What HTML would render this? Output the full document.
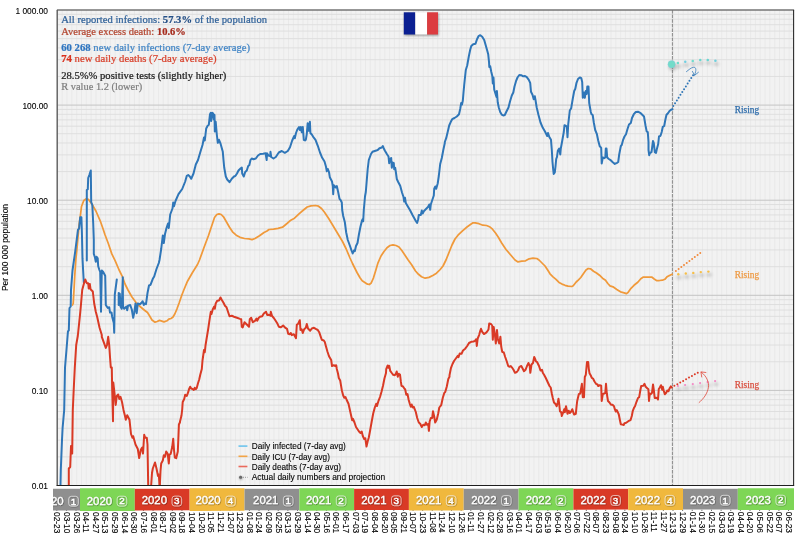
<!DOCTYPE html>
<html lang="en"><head><meta charset="utf-8"><title>France COVID-19 chart</title>
<style>html,body{margin:0;padding:0;background:#fff}body{width:800px;height:534px;overflow:hidden}svg{display:block}</style>
</head><body>
<svg width="800" height="534" viewBox="0 0 800 534" role="img" aria-label="COVID-19 France: daily infections, ICU and deaths per 100 000 population">
<defs><filter id="sh" x="-50%" y="-50%" width="200%" height="200%"><feGaussianBlur stdDeviation="1.1"/></filter><filter id="ts" x="-5%" y="-30%" width="110%" height="170%"><feDropShadow dx="0.45" dy="0.55" stdDeviation="0.35" flood-color="#000" flood-opacity="0.6"/></filter><filter id="sh2" x="-50%" y="-50%" width="200%" height="300%"><feGaussianBlur stdDeviation="1.6"/></filter><clipPath id="pc"><rect x="57.2" y="10.0" width="736.4" height="475.5"/></clipPath><clipPath id="bc"><rect x="53" y="488" width="741" height="24"/></clipPath></defs>
<rect x="57.2" y="10.0" width="736.4" height="475.5" fill="#f2f2f2"/>
<path d="M62.21,10.0V485.5M67.03,10.0V485.5M71.84,10.0V485.5M76.66,10.0V485.5M81.47,10.0V485.5M86.28,10.0V485.5M91.10,10.0V485.5M95.91,10.0V485.5M100.73,10.0V485.5M105.54,10.0V485.5M110.35,10.0V485.5M115.17,10.0V485.5M119.98,10.0V485.5M124.80,10.0V485.5M129.61,10.0V485.5M134.42,10.0V485.5M139.24,10.0V485.5M144.05,10.0V485.5M148.87,10.0V485.5M153.68,10.0V485.5M158.49,10.0V485.5M163.31,10.0V485.5M168.12,10.0V485.5M172.94,10.0V485.5M177.75,10.0V485.5M182.56,10.0V485.5M187.38,10.0V485.5M192.19,10.0V485.5M197.01,10.0V485.5M201.82,10.0V485.5M206.63,10.0V485.5M211.45,10.0V485.5M216.26,10.0V485.5M221.08,10.0V485.5M225.89,10.0V485.5M230.70,10.0V485.5M235.52,10.0V485.5M240.33,10.0V485.5M245.15,10.0V485.5M249.96,10.0V485.5M254.77,10.0V485.5M259.59,10.0V485.5M264.40,10.0V485.5M269.22,10.0V485.5M274.03,10.0V485.5M278.84,10.0V485.5M283.66,10.0V485.5M288.47,10.0V485.5M293.29,10.0V485.5M298.10,10.0V485.5M302.91,10.0V485.5M307.73,10.0V485.5M312.54,10.0V485.5M317.36,10.0V485.5M322.17,10.0V485.5M326.98,10.0V485.5M331.80,10.0V485.5M336.61,10.0V485.5M341.43,10.0V485.5M346.24,10.0V485.5M351.05,10.0V485.5M355.87,10.0V485.5M360.68,10.0V485.5M365.50,10.0V485.5M370.31,10.0V485.5M375.12,10.0V485.5M379.94,10.0V485.5M384.75,10.0V485.5M389.57,10.0V485.5M394.38,10.0V485.5M399.19,10.0V485.5M404.01,10.0V485.5M408.82,10.0V485.5M413.64,10.0V485.5M418.45,10.0V485.5M423.26,10.0V485.5M428.08,10.0V485.5M432.89,10.0V485.5M437.71,10.0V485.5M442.52,10.0V485.5M447.33,10.0V485.5M452.15,10.0V485.5M456.96,10.0V485.5M461.78,10.0V485.5M466.59,10.0V485.5M471.40,10.0V485.5M476.22,10.0V485.5M481.03,10.0V485.5M485.85,10.0V485.5M490.66,10.0V485.5M495.47,10.0V485.5M500.29,10.0V485.5M505.10,10.0V485.5M509.92,10.0V485.5M514.73,10.0V485.5M519.54,10.0V485.5M524.36,10.0V485.5M529.17,10.0V485.5M533.99,10.0V485.5M538.80,10.0V485.5M543.61,10.0V485.5M548.43,10.0V485.5M553.24,10.0V485.5M558.06,10.0V485.5M562.87,10.0V485.5M567.68,10.0V485.5M572.50,10.0V485.5M577.31,10.0V485.5M582.13,10.0V485.5M586.94,10.0V485.5M591.75,10.0V485.5M596.57,10.0V485.5M601.38,10.0V485.5M606.20,10.0V485.5M611.01,10.0V485.5M615.82,10.0V485.5M620.64,10.0V485.5M625.45,10.0V485.5M630.27,10.0V485.5M635.08,10.0V485.5M639.89,10.0V485.5M644.71,10.0V485.5M649.52,10.0V485.5M654.34,10.0V485.5M659.15,10.0V485.5M663.96,10.0V485.5M668.78,10.0V485.5M673.59,10.0V485.5M678.41,10.0V485.5M683.22,10.0V485.5M688.03,10.0V485.5M692.85,10.0V485.5M697.66,10.0V485.5M702.48,10.0V485.5M707.29,10.0V485.5M712.10,10.0V485.5M716.92,10.0V485.5M721.73,10.0V485.5M726.55,10.0V485.5M731.36,10.0V485.5M736.17,10.0V485.5M740.99,10.0V485.5M745.80,10.0V485.5M750.62,10.0V485.5M755.43,10.0V485.5M760.24,10.0V485.5M765.06,10.0V485.5M769.87,10.0V485.5M774.69,10.0V485.5M779.50,10.0V485.5M784.31,10.0V485.5M789.13,10.0V485.5" stroke="#e5e5e5" stroke-width="0.7" fill="none"/>
<path d="M57.2,456.87H793.6M57.2,440.13H793.6M57.2,428.24H793.6M57.2,419.03H793.6M57.2,411.50H793.6M57.2,405.13H793.6M57.2,399.62H793.6M57.2,394.75H793.6M57.2,361.77H793.6M57.2,345.03H793.6M57.2,333.14H793.6M57.2,323.93H793.6M57.2,316.40H793.6M57.2,310.03H793.6M57.2,304.52H793.6M57.2,299.65H793.6M57.2,266.67H793.6M57.2,249.93H793.6M57.2,238.04H793.6M57.2,228.83H793.6M57.2,221.30H793.6M57.2,214.93H793.6M57.2,209.42H793.6M57.2,204.55H793.6M57.2,171.57H793.6M57.2,154.83H793.6M57.2,142.94H793.6M57.2,133.73H793.6M57.2,126.20H793.6M57.2,119.83H793.6M57.2,114.32H793.6M57.2,109.45H793.6M57.2,76.47H793.6M57.2,59.73H793.6M57.2,47.84H793.6M57.2,38.63H793.6M57.2,31.10H793.6M57.2,24.73H793.6M57.2,19.22H793.6M57.2,14.35H793.6" stroke="#dddddd" stroke-width="0.9" fill="none"/>
<path d="M57.2,390.40H793.6M57.2,295.30H793.6M57.2,200.20H793.6M57.2,105.10H793.6" stroke="#c4c4c4" stroke-width="1" fill="none"/>
<path d="M56.80,509.7v1.3M66.43,509.7v1.3M76.06,509.7v1.3M85.68,509.7v1.3M95.31,509.7v1.3M104.94,509.7v1.3M114.57,509.7v1.3M124.20,509.7v1.3M133.82,509.7v1.3M143.45,509.7v1.3M153.08,509.7v1.3M162.71,509.7v1.3M172.34,509.7v1.3M181.96,509.7v1.3M191.59,509.7v1.3M201.22,509.7v1.3M210.85,509.7v1.3M220.48,509.7v1.3M230.10,509.7v1.3M239.73,509.7v1.3M249.36,509.7v1.3M258.99,509.7v1.3M268.62,509.7v1.3M278.24,509.7v1.3M287.87,509.7v1.3M297.50,509.7v1.3M307.13,509.7v1.3M316.76,509.7v1.3M326.38,509.7v1.3M336.01,509.7v1.3M345.64,509.7v1.3M355.27,509.7v1.3M364.90,509.7v1.3M374.52,509.7v1.3M384.15,509.7v1.3M393.78,509.7v1.3M403.41,509.7v1.3M413.04,509.7v1.3M422.66,509.7v1.3M432.29,509.7v1.3M441.92,509.7v1.3M451.55,509.7v1.3M461.18,509.7v1.3M470.80,509.7v1.3M480.43,509.7v1.3M490.06,509.7v1.3M499.69,509.7v1.3M509.32,509.7v1.3M518.94,509.7v1.3M528.57,509.7v1.3M538.20,509.7v1.3M547.83,509.7v1.3M557.46,509.7v1.3M567.08,509.7v1.3M576.71,509.7v1.3M586.34,509.7v1.3M595.97,509.7v1.3M605.60,509.7v1.3M615.22,509.7v1.3M624.85,509.7v1.3M634.48,509.7v1.3M644.11,509.7v1.3M653.74,509.7v1.3M663.36,509.7v1.3M672.99,509.7v1.3M682.62,509.7v1.3M692.25,509.7v1.3M701.88,509.7v1.3M711.50,509.7v1.3M721.13,509.7v1.3M730.76,509.7v1.3M740.39,509.7v1.3M750.02,509.7v1.3M759.64,509.7v1.3M769.27,509.7v1.3M778.90,509.7v1.3M788.53,509.7v1.3" stroke="#222" stroke-opacity="0.8" stroke-width="0.8" fill="none"/>
<path d="M53.0,488.85L80.0,488.85L80.0,510.51L53.0,510.55Z" fill="#8f8f8f"/>
<path d="M80.0,488.30L134.8,488.30L134.8,510.97L80.0,511.06Z" fill="#7ed656"/>
<path d="M134.8,488.85L189.6,488.85L189.6,510.33L134.8,510.42Z" fill="#d93a26"/>
<path d="M189.6,488.30L244.5,488.30L244.5,510.79L189.6,510.88Z" fill="#f0b83d"/>
<path d="M244.5,488.85L299.3,488.85L299.3,510.15L244.5,510.24Z" fill="#8f8f8f"/>
<path d="M299.3,488.30L354.1,488.30L354.1,510.61L299.3,510.70Z" fill="#7ed656"/>
<path d="M354.1,488.85L408.9,488.85L408.9,509.97L354.1,510.06Z" fill="#d93a26"/>
<path d="M408.9,488.30L463.7,488.30L463.7,510.43L408.9,510.52Z" fill="#f0b83d"/>
<path d="M463.7,488.85L518.6,488.85L518.6,509.80L463.7,509.88Z" fill="#8f8f8f"/>
<path d="M518.6,488.30L573.4,488.30L573.4,510.26L518.6,510.35Z" fill="#7ed656"/>
<path d="M573.4,488.85L628.2,488.85L628.2,509.62L573.4,509.71Z" fill="#d93a26"/>
<path d="M628.2,488.30L683.0,488.30L683.0,510.08L628.2,510.17Z" fill="#f0b83d"/>
<path d="M683.0,488.85L737.8,488.85L737.8,509.44L683.0,509.53Z" fill="#8f8f8f"/>
<path d="M737.8,488.30L794.0,488.30L794.0,509.90L737.8,509.99Z" fill="#7ed656"/>
<g clip-path="url(#bc)" filter="url(#ts)" font-family="'Liberation Sans', sans-serif" font-size="11.5" fill="#fff" stroke="#fff" stroke-width="0.28">
<text x="38.4" y="504.6" textLength="25.3" lengthAdjust="spacingAndGlyphs">2020</text><rect x="68.7" y="496.3" width="9.6" height="9.9" rx="2.7" fill="none" stroke-width="0.6"/><text x="73.5" y="504.5" font-size="9.8" stroke-width="0.4" text-anchor="middle">1</text>
<text x="86.8" y="504.5" textLength="25.3" lengthAdjust="spacingAndGlyphs">2020</text><rect x="117.1" y="496.2" width="9.6" height="9.9" rx="2.7" fill="none" stroke-width="0.6"/><text x="121.9" y="504.4" font-size="9.8" stroke-width="0.4" text-anchor="middle">2</text>
<text x="141.7" y="504.4" textLength="25.3" lengthAdjust="spacingAndGlyphs">2020</text><rect x="172.0" y="496.1" width="9.6" height="9.9" rx="2.7" fill="none" stroke-width="0.6"/><text x="176.8" y="504.3" font-size="9.8" stroke-width="0.4" text-anchor="middle">3</text>
<text x="195.4" y="504.4" textLength="25.3" lengthAdjust="spacingAndGlyphs">2020</text><rect x="225.7" y="496.1" width="9.6" height="9.9" rx="2.7" fill="none" stroke-width="0.6"/><text x="230.5" y="504.3" font-size="9.8" stroke-width="0.4" text-anchor="middle">4</text>
<text x="253.1" y="504.3" textLength="25.3" lengthAdjust="spacingAndGlyphs">2021</text><rect x="283.4" y="496.0" width="9.6" height="9.9" rx="2.7" fill="none" stroke-width="0.6"/><text x="288.2" y="504.2" font-size="9.8" stroke-width="0.4" text-anchor="middle">1</text>
<text x="306.0" y="504.2" textLength="25.3" lengthAdjust="spacingAndGlyphs">2021</text><rect x="336.3" y="495.9" width="9.6" height="9.9" rx="2.7" fill="none" stroke-width="0.6"/><text x="341.1" y="504.1" font-size="9.8" stroke-width="0.4" text-anchor="middle">2</text>
<text x="361.2" y="504.1" textLength="25.3" lengthAdjust="spacingAndGlyphs">2021</text><rect x="391.5" y="495.8" width="9.6" height="9.9" rx="2.7" fill="none" stroke-width="0.6"/><text x="396.3" y="504.0" font-size="9.8" stroke-width="0.4" text-anchor="middle">3</text>
<text x="416.0" y="504.0" textLength="25.3" lengthAdjust="spacingAndGlyphs">2021</text><rect x="446.3" y="495.7" width="9.6" height="9.9" rx="2.7" fill="none" stroke-width="0.6"/><text x="451.1" y="503.9" font-size="9.8" stroke-width="0.4" text-anchor="middle">4</text>
<text x="471.2" y="503.9" textLength="25.3" lengthAdjust="spacingAndGlyphs">2022</text><rect x="501.5" y="495.6" width="9.6" height="9.9" rx="2.7" fill="none" stroke-width="0.6"/><text x="506.3" y="503.8" font-size="9.8" stroke-width="0.4" text-anchor="middle">1</text>
<text x="525.7" y="503.9" textLength="25.3" lengthAdjust="spacingAndGlyphs">2022</text><rect x="556.0" y="495.6" width="9.6" height="9.9" rx="2.7" fill="none" stroke-width="0.6"/><text x="560.8" y="503.8" font-size="9.8" stroke-width="0.4" text-anchor="middle">2</text>
<text x="580.5" y="503.8" textLength="25.3" lengthAdjust="spacingAndGlyphs">2022</text><rect x="610.8" y="495.5" width="9.6" height="9.9" rx="2.7" fill="none" stroke-width="0.6"/><text x="615.6" y="503.7" font-size="9.8" stroke-width="0.4" text-anchor="middle">3</text>
<text x="634.7" y="503.7" textLength="25.3" lengthAdjust="spacingAndGlyphs">2022</text><rect x="665.0" y="495.4" width="9.6" height="9.9" rx="2.7" fill="none" stroke-width="0.6"/><text x="669.8" y="503.6" font-size="9.8" stroke-width="0.4" text-anchor="middle">4</text>
<text x="690.1" y="503.6" textLength="25.3" lengthAdjust="spacingAndGlyphs">2023</text><rect x="720.4" y="495.3" width="9.6" height="9.9" rx="2.7" fill="none" stroke-width="0.6"/><text x="725.2" y="503.5" font-size="9.8" stroke-width="0.4" text-anchor="middle">1</text>
<text x="745.6" y="503.5" textLength="25.3" lengthAdjust="spacingAndGlyphs">2023</text><rect x="775.9" y="495.2" width="9.6" height="9.9" rx="2.7" fill="none" stroke-width="0.6"/><text x="780.7" y="503.4" font-size="9.8" stroke-width="0.4" text-anchor="middle">2</text>
</g>
<g font-family="'Liberation Sans', sans-serif" font-size="9.8" fill="#000" stroke="#000" stroke-width="0.12">
<text transform="translate(54.25,512.10) rotate(90) scale(0.845,1)">02-23</text>
<text transform="translate(63.88,512.09) rotate(90) scale(0.845,1)">03-10</text>
<text transform="translate(73.51,512.09) rotate(90) scale(0.845,1)">03-26</text>
<text transform="translate(83.13,512.09) rotate(90) scale(0.845,1)">04-11</text>
<text transform="translate(92.76,512.08) rotate(90) scale(0.845,1)">04-27</text>
<text transform="translate(102.39,512.08) rotate(90) scale(0.845,1)">05-13</text>
<text transform="translate(112.02,512.08) rotate(90) scale(0.845,1)">05-29</text>
<text transform="translate(121.65,512.07) rotate(90) scale(0.845,1)">06-14</text>
<text transform="translate(131.27,512.07) rotate(90) scale(0.845,1)">06-30</text>
<text transform="translate(140.90,512.06) rotate(90) scale(0.845,1)">07-16</text>
<text transform="translate(150.53,512.06) rotate(90) scale(0.845,1)">08-01</text>
<text transform="translate(160.16,512.06) rotate(90) scale(0.845,1)">08-17</text>
<text transform="translate(169.79,512.05) rotate(90) scale(0.845,1)">09-02</text>
<text transform="translate(179.41,512.05) rotate(90) scale(0.845,1)">09-18</text>
<text transform="translate(189.04,512.04) rotate(90) scale(0.845,1)">10-04</text>
<text transform="translate(198.67,512.04) rotate(90) scale(0.845,1)">10-20</text>
<text transform="translate(208.30,512.04) rotate(90) scale(0.845,1)">11-05</text>
<text transform="translate(217.93,512.03) rotate(90) scale(0.845,1)">11-21</text>
<text transform="translate(227.55,512.03) rotate(90) scale(0.845,1)">12-07</text>
<text transform="translate(237.18,512.02) rotate(90) scale(0.845,1)">12-23</text>
<text transform="translate(246.81,512.02) rotate(90) scale(0.845,1)">01-08</text>
<text transform="translate(256.44,512.02) rotate(90) scale(0.845,1)">01-24</text>
<text transform="translate(266.07,512.01) rotate(90) scale(0.845,1)">02-09</text>
<text transform="translate(275.69,512.01) rotate(90) scale(0.845,1)">02-25</text>
<text transform="translate(285.32,512.00) rotate(90) scale(0.845,1)">03-13</text>
<text transform="translate(294.95,512.00) rotate(90) scale(0.845,1)">03-29</text>
<text transform="translate(304.58,512.00) rotate(90) scale(0.845,1)">04-14</text>
<text transform="translate(314.21,511.99) rotate(90) scale(0.845,1)">04-30</text>
<text transform="translate(323.83,511.99) rotate(90) scale(0.845,1)">05-16</text>
<text transform="translate(333.46,511.99) rotate(90) scale(0.845,1)">06-01</text>
<text transform="translate(343.09,511.98) rotate(90) scale(0.845,1)">06-17</text>
<text transform="translate(352.72,511.98) rotate(90) scale(0.845,1)">07-03</text>
<text transform="translate(362.35,511.97) rotate(90) scale(0.845,1)">07-19</text>
<text transform="translate(371.97,511.97) rotate(90) scale(0.845,1)">08-04</text>
<text transform="translate(381.60,511.97) rotate(90) scale(0.845,1)">08-20</text>
<text transform="translate(391.23,511.96) rotate(90) scale(0.845,1)">09-05</text>
<text transform="translate(400.86,511.96) rotate(90) scale(0.845,1)">09-21</text>
<text transform="translate(410.49,511.95) rotate(90) scale(0.845,1)">10-07</text>
<text transform="translate(420.11,511.95) rotate(90) scale(0.845,1)">10-23</text>
<text transform="translate(429.74,511.95) rotate(90) scale(0.845,1)">11-08</text>
<text transform="translate(439.37,511.94) rotate(90) scale(0.845,1)">11-24</text>
<text transform="translate(449.00,511.94) rotate(90) scale(0.845,1)">12-10</text>
<text transform="translate(458.63,511.93) rotate(90) scale(0.845,1)">12-26</text>
<text transform="translate(468.25,511.93) rotate(90) scale(0.845,1)">01-11</text>
<text transform="translate(477.88,511.93) rotate(90) scale(0.845,1)">01-27</text>
<text transform="translate(487.51,511.92) rotate(90) scale(0.845,1)">02-12</text>
<text transform="translate(497.14,511.92) rotate(90) scale(0.845,1)">02-28</text>
<text transform="translate(506.77,511.92) rotate(90) scale(0.845,1)">03-16</text>
<text transform="translate(516.39,511.91) rotate(90) scale(0.845,1)">04-01</text>
<text transform="translate(526.02,511.91) rotate(90) scale(0.845,1)">04-17</text>
<text transform="translate(535.65,511.90) rotate(90) scale(0.845,1)">05-03</text>
<text transform="translate(545.28,511.90) rotate(90) scale(0.845,1)">05-19</text>
<text transform="translate(554.91,511.90) rotate(90) scale(0.845,1)">06-04</text>
<text transform="translate(564.53,511.89) rotate(90) scale(0.845,1)">06-20</text>
<text transform="translate(574.16,511.89) rotate(90) scale(0.845,1)">07-06</text>
<text transform="translate(583.79,511.88) rotate(90) scale(0.845,1)">07-22</text>
<text transform="translate(593.42,511.88) rotate(90) scale(0.845,1)">08-07</text>
<text transform="translate(603.05,511.88) rotate(90) scale(0.845,1)">08-23</text>
<text transform="translate(612.67,511.87) rotate(90) scale(0.845,1)">09-08</text>
<text transform="translate(622.30,511.87) rotate(90) scale(0.845,1)">09-24</text>
<text transform="translate(631.93,511.86) rotate(90) scale(0.845,1)">10-10</text>
<text transform="translate(641.56,511.86) rotate(90) scale(0.845,1)">10-26</text>
<text transform="translate(651.19,511.86) rotate(90) scale(0.845,1)">11-11</text>
<text transform="translate(660.81,511.85) rotate(90) scale(0.845,1)">11-27</text>
<text transform="translate(670.44,511.85) rotate(90) scale(0.845,1)">12-13</text>
<text transform="translate(680.07,511.85) rotate(90) scale(0.845,1)">12-29</text>
<text transform="translate(689.70,511.84) rotate(90) scale(0.845,1)">01-14</text>
<text transform="translate(699.33,511.84) rotate(90) scale(0.845,1)">01-30</text>
<text transform="translate(708.95,511.83) rotate(90) scale(0.845,1)">02-15</text>
<text transform="translate(718.58,511.83) rotate(90) scale(0.845,1)">03-03</text>
<text transform="translate(728.21,511.83) rotate(90) scale(0.845,1)">03-19</text>
<text transform="translate(737.84,511.82) rotate(90) scale(0.845,1)">04-04</text>
<text transform="translate(747.47,511.82) rotate(90) scale(0.845,1)">04-20</text>
<text transform="translate(757.09,511.81) rotate(90) scale(0.845,1)">05-06</text>
<text transform="translate(766.72,511.81) rotate(90) scale(0.845,1)">05-22</text>
<text transform="translate(776.35,511.81) rotate(90) scale(0.845,1)">06-07</text>
<text transform="translate(785.98,511.80) rotate(90) scale(0.845,1)">06-23</text>
</g>
<path d="M672.4,10.0V485.5" stroke="#7a7a7a" stroke-width="0.9" stroke-dasharray="3.6 1" fill="none"/>
<g clip-path="url(#pc)" fill="none" stroke-linejoin="round" stroke-linecap="round" stroke-width="2.05">
<path d="M72.5,305.0 L73.2,303.5 L74.0,290.0 L74.8,275.0 L75.8,260.0 L76.9,249.4 L79.1,224.6 L80.5,214.5 L81.5,206.5 L83.8,200.5 L86.0,199.0 L88.5,199.4 L92.0,204.2 L95.9,211.0 L100.2,220.8 L103.1,229.0 L105.0,234.8 L108.4,243.8 L111.8,253.9 L115.1,260.6 L119.1,270.0 L122.0,275.8 L125.0,284.0 L128.0,290.0 L131.8,296.8 L136.2,302.8 L140.0,306.5 L144.5,310.2 L147.5,312.5 L149.8,316.2 L152.0,320.0 L155.0,322.2 L157.2,321.5 L159.5,320.4 L161.8,321.1 L164.0,321.9 L167.0,320.8 L168.8,319.2 L171.0,318.5 L172.8,317.3 L174.8,314.0 L177.0,308.8 L179.2,302.8 L181.5,296.0 L183.8,290.0 L187.5,281.2 L192.5,272.5 L197.5,264.5 L199.5,260.0 L204.0,247.5 L208.5,235.5 L211.5,226.5 L214.5,217.5 L216.8,214.5 L219.0,213.8 L221.2,214.5 L223.5,216.8 L226.5,222.0 L229.5,227.2 L232.5,231.8 L236.2,235.2 L240.0,237.3 L244.5,238.5 L249.0,238.9 L252.0,239.6 L255.0,238.5 L259.5,235.8 L264.0,232.5 L267.0,231.0 L269.0,229.5 L273.5,229.2 L278.0,228.4 L282.5,227.2 L287.0,223.5 L290.8,220.2 L294.5,218.2 L299.0,213.8 L303.5,210.0 L307.2,207.0 L311.0,205.8 L315.5,205.5 L318.5,206.2 L321.5,208.5 L324.5,212.2 L329.0,219.0 L333.5,226.5 L338.0,234.0 L342.5,241.5 L346.2,249.0 L350.0,258.0 L352.5,263.5 L357.0,272.5 L360.0,277.8 L362.2,280.8 L365.2,282.7 L367.5,284.2 L369.3,284.5 L371.2,283.0 L373.5,277.8 L375.8,270.2 L378.0,262.8 L381.0,256.0 L384.0,251.5 L387.0,247.8 L390.0,245.5 L393.0,244.8 L396.0,245.5 L399.0,247.0 L402.0,250.8 L405.0,255.2 L408.0,259.8 L411.8,265.0 L415.5,271.0 L418.5,274.3 L421.5,276.7 L425.2,278.2 L429.0,277.4 L432.8,275.5 L436.5,273.2 L440.2,269.5 L443.0,266.0 L446.0,260.0 L449.0,252.5 L452.0,245.0 L455.0,239.0 L458.0,235.2 L462.5,230.8 L467.0,227.0 L470.8,224.3 L473.0,222.8 L475.2,222.8 L479.0,223.7 L482.8,225.2 L486.5,225.5 L489.5,226.7 L492.5,229.2 L495.5,233.0 L498.5,237.5 L501.5,242.8 L506.0,249.5 L510.5,254.8 L515.0,260.0 L518.0,261.9 L521.8,261.2 L525.5,260.8 L529.2,258.8 L533.0,258.2 L536.8,258.5 L539.0,260.0 L542.0,263.0 L545.0,266.0 L548.0,270.5 L550.0,273.8 L553.0,276.8 L556.0,279.3 L559.0,282.4 L562.0,284.1 L565.0,285.3 L568.0,286.2 L571.8,286.5 L573.2,285.8 L576.2,282.0 L578.5,279.8 L580.8,277.5 L583.0,274.2 L586.0,270.0 L588.2,268.5 L590.5,268.8 L593.5,271.2 L596.5,273.0 L599.5,275.2 L602.5,278.2 L605.5,280.2 L607.8,283.5 L610.0,285.8 L613.0,286.8 L616.8,289.5 L620.5,291.8 L624.2,292.8 L626.5,293.6 L628.0,292.5 L631.0,288.3 L634.0,285.3 L637.8,282.3 L640.8,278.7 L643.0,277.2 L647.5,277.2 L652.0,277.2 L654.2,279.0 L656.5,280.5 L659.5,280.5 L662.5,280.2 L664.8,279.3 L667.0,276.8 L670.0,275.2 L672.2,274.2" stroke="#f0993a" stroke-width="1.75"/>
<path d="M60.5,485.0 L60.8,470.0 L61.4,455.0 L62.0,440.0 L62.6,428.0 L64.2,410.0 L65.0,367.5 L66.5,349.5 L67.7,334.5 L68.0,331.2 L68.8,330.5 L69.5,308.0 L70.7,306.5 L71.0,290.0 L72.5,270.5 L75.2,251.6 L78.0,229.7 L79.1,228.6 L80.2,217.3 L81.4,217.3 L81.9,232.5 L82.5,258.4 L83.1,270.0 L83.8,282.5" stroke="#2f76b8" stroke-width="2.0"/>
<path d="M86.8,260.6 L86.8,210.0 L86.8,190.0 L87.8,189.2 L88.2,178.0 L89.3,175.0 L90.8,170.5 L91.2,202.0 L92.3,205.0 L93.2,223.0 L93.8,239.9 L93.8,253.9 L94.9,257.2 L95.8,261.8 L96.6,256.7 L97.7,258.4 L98.2,266.2 L99.4,270.0 L100.2,272.0 L101.0,311.8 L101.8,270.5 L103.2,272.0 L105.2,275.8 L105.8,305.0 L107.8,308.0 L109.2,307.2 L110.0,312.5 L111.5,312.5 L112.2,317.0 L113.8,323.0 L114.2,332.8 L114.8,294.5 L116.8,279.5" stroke="#2f76b8" stroke-width="2.0"/>
<path d="M118.7,293.0 L118.7,305.0 L119.8,293.8 L120.5,306.5 L121.7,308.8 L122.8,277.2 L123.0,306.5 L124.2,308.8 L126.5,306.5 L127.2,310.2 L128.0,305.8 L130.2,305.0 L131.8,309.5 L133.2,317.8 L134.3,312.5 L135.5,303.5 L136.7,313.2 L137.8,303.5 L140.0,304.2 L141.5,302.8 L142.7,301.2 L143.8,305.0 L144.5,303.5 L146.0,304.2 L147.5,293.0 L149.0,285.5 L150.5,284.8 L152.8,278.8 L154.2,276.5 L156.5,269.0 L158.8,263.0 L159.5,260.0 L161.2,249.0 L162.8,235.5 L163.8,243.0 L165.0,234.0 L166.5,228.0 L168.0,223.5 L168.8,228.0 L170.2,214.5 L172.5,208.5 L173.2,202.5 L174.0,206.2 L175.5,201.0 L178.5,194.2 L182.2,189.0 L185.2,181.5 L186.8,175.8 L188.2,175.0 L189.8,176.5 L191.2,178.8 L193.5,173.5 L195.8,164.5 L198.0,160.0 L200.2,152.5 L202.5,145.0 L204.0,137.5 L204.8,140.5 L206.2,128.5 L207.8,125.5 L208.8,124.8 L210.0,114.2 L210.8,112.8 L211.2,121.0 L212.2,112.8 L213.3,113.5 L213.8,119.5 L214.5,115.0 L214.8,131.5 L215.7,121.8 L216.8,134.5 L217.8,142.8 L219.0,139.8 L220.5,143.5 L222.8,151.8 L223.5,160.0 L224.2,167.5 L225.8,176.5 L227.2,179.5 L229.5,182.2 L231.8,178.8 L234.0,176.5 L235.5,175.8 L237.0,173.5 L238.5,170.5 L240.8,168.2 L241.8,167.5 L242.2,173.5 L243.8,176.5 L245.2,172.0 L246.8,170.5 L248.2,166.0 L249.3,165.2 L250.5,160.0 L251.7,158.5 L253.5,159.2 L255.8,158.5 L258.0,155.5 L260.2,154.0 L263.2,153.7 L265.5,153.2 L266.7,160.0 L267.0,153.2 L268.5,155.5 L270.2,156.2 L270.5,151.8 L271.2,157.0 L273.5,158.5 L275.8,157.0 L278.8,152.5 L281.8,151.0 L284.8,152.8 L287.8,151.0 L290.0,147.2 L292.2,140.5 L294.2,136.0 L294.8,138.2 L296.0,133.0 L297.5,129.2 L299.0,127.0 L299.8,130.0 L300.8,127.0 L301.7,132.2 L302.8,127.0 L303.8,139.8 L305.0,140.5 L305.8,139.8 L306.8,133.8 L307.7,123.2 L308.8,130.8 L309.9,121.8 L310.4,133.0 L311.8,134.5 L313.2,136.8 L315.5,139.8 L317.8,145.8 L320.0,152.5 L322.2,157.8 L324.5,161.5 L326.0,166.8 L326.8,171.2 L327.8,169.0 L329.0,172.0 L329.8,177.2 L332.0,181.5 L332.8,186.0 L333.2,194.2 L333.8,185.2 L335.8,187.5 L336.8,186.0 L338.0,191.2 L339.5,198.8 L340.7,200.2 L341.8,202.5 L342.2,210.0 L343.2,216.0 L344.8,222.0 L346.2,232.5 L347.8,240.0 L350.0,246.0 L351.5,250.5 L352.7,253.5 L353.8,250.5 L354.8,251.2 L356.0,246.0 L357.5,243.0 L359.0,234.0 L360.5,226.5 L362.0,220.5 L362.8,219.0 L363.2,221.2 L363.8,210.0 L365.0,196.5 L365.8,192.0 L366.8,180.0 L367.7,169.0 L368.8,160.0 L371.0,154.0 L372.5,151.8 L374.8,151.0 L377.0,150.2 L378.0,149.8 L379.5,148.2 L381.8,147.5 L382.8,146.0 L383.7,148.2 L384.8,150.5 L387.0,154.2 L388.5,156.5 L389.2,163.2 L390.3,158.8 L391.2,158.0 L391.8,167.8 L392.7,162.5 L393.8,163.2 L394.2,169.2 L395.2,167.8 L396.0,173.0 L396.8,179.0 L398.2,182.0 L400.2,185.8 L402.0,192.5 L403.5,197.0 L404.2,201.5 L405.0,197.8 L405.8,203.0 L408.0,206.8 L410.2,210.5 L412.5,215.0 L414.3,218.3 L415.8,221.0 L417.1,222.9 L418.2,219.2 L418.8,215.0 L420.8,215.0 L421.8,210.5 L422.7,213.5 L423.8,211.2 L426.0,209.0 L428.2,206.8 L429.3,204.5 L430.2,209.8 L430.8,204.5 L432.8,198.5 L433.8,195.5 L434.2,188.8 L435.3,186.5 L436.2,188.8 L437.7,183.5 L438.8,176.0 L440.2,164.0 L441.8,158.0 L443.2,150.5 L444.8,143.0 L444.8,142.0 L446.2,138.2 L447.8,131.5 L449.2,125.5 L450.8,121.8 L452.2,119.2 L454.5,118.0 L456.8,116.5 L459.0,114.2 L460.2,109.0 L461.2,103.0 L462.0,104.5 L462.8,100.8 L463.5,92.5 L464.2,85.0 L465.3,74.5 L465.8,70.0 L467.2,65.5 L468.8,56.5 L470.2,49.8 L471.3,46.0 L473.2,44.2 L475.5,43.8 L477.0,39.2 L478.5,36.2 L480.3,35.2 L482.2,36.7 L484.2,40.0 L485.7,45.2 L487.2,50.5 L488.2,54.2 L489.0,61.8 L489.3,67.0 L490.2,66.2 L491.2,71.5 L492.3,76.0 L492.8,83.5 L493.2,77.5 L493.5,77.5 L494.2,89.5 L495.8,94.8 L496.5,97.0 L496.9,91.0 L497.7,102.2 L498.8,107.5 L500.2,112.0 L501.8,114.7 L503.2,115.5 L504.8,115.0 L506.2,112.0 L508.5,107.5 L510.0,101.5 L511.8,95.5 L513.3,92.5 L514.5,86.5 L516.0,81.2 L517.5,77.5 L519.3,75.0 L521.2,75.2 L523.2,76.3 L525.0,76.0 L526.8,77.2 L528.8,79.8 L530.2,82.8 L531.0,91.8 L532.5,94.8 L533.7,99.2 L534.8,96.2 L535.5,100.0 L536.7,107.5 L538.5,115.0 L540.5,122.5 L542.8,127.8 L545.0,131.5 L547.2,136.0 L548.0,133.0 L549.2,136.8 L551.0,139.8 L551.8,150.0 L552.5,162.0 L553.2,169.5 L553.7,174.0 L554.8,172.5 L555.5,166.5 L556.2,159.0 L557.0,156.8 L557.8,150.8 L559.2,148.5 L560.3,154.5 L560.8,148.5 L562.2,141.0 L563.8,132.0 L564.5,125.2 L566.0,126.0 L566.8,126.8 L567.5,137.2 L568.2,124.5 L569.8,110.5 L571.2,108.2 L572.8,98.5 L574.2,91.0 L575.3,88.8 L576.5,82.8 L578.0,79.0 L579.8,77.5 L581.3,78.2 L582.2,82.0 L582.8,97.8 L584.0,92.5 L584.8,97.8 L585.8,91.0 L586.7,94.0 L587.3,86.5 L588.5,86.5 L589.2,103.0 L590.8,112.0 L591.5,114.2 L592.7,115.0 L593.8,122.5 L595.2,130.0 L596.8,133.8 L598.2,140.5 L599.8,146.5 L599.8,146.2 L601.2,147.8 L601.7,163.5 L602.8,157.5 L604.2,158.2 L605.3,157.5 L605.8,148.5 L606.5,148.5 L607.2,157.5 L608.8,159.0 L610.2,159.8 L612.5,162.0 L614.8,163.9 L617.0,162.8 L618.2,162.0 L619.2,154.5 L620.8,146.2 L621.8,144.8 L623.0,140.2 L624.5,136.5 L626.0,134.2 L627.5,129.0 L629.0,124.5 L630.8,123.0 L632.0,118.0 L633.8,114.2 L635.8,112.0 L638.0,111.7 L640.2,112.8 L642.5,115.0 L644.0,116.5 L645.5,125.5 L646.7,131.5 L647.8,132.2 L648.5,142.0 L648.5,150.0 L649.2,155.2 L650.0,153.0 L651.5,152.2 L652.2,147.0 L653.0,141.0 L653.8,143.2 L654.8,152.2 L656.0,153.0 L656.8,149.2 L658.2,144.0 L659.0,136.5 L660.5,135.8 L661.7,132.0 L662.8,126.8 L664.2,126.0 L665.3,120.0 L666.5,114.8 L668.0,113.2 L669.5,111.0 L671.0,109.8 L672.5,109.2" stroke="#2f76b8" stroke-width="2.0"/>
<path d="M68.8,485.0 L68.8,468.5 L70.2,467.0 L71.0,446.0 L72.2,453.5 L72.8,410.0 L73.7,390.0 L74.8,367.5 L76.2,345.0 L77.8,336.0 L80.0,314.8 L80.8,306.5 L82.2,290.0 L83.8,284.0 L85.2,279.5 L86.8,283.2 L88.2,283.2 L88.7,288.5 L89.8,284.0 L90.5,289.2 L92.8,291.5 L94.2,303.5 L95.8,311.8 L97.2,317.0 L99.5,327.5 L101.8,335.0 L101.8,336.8 L104.0,342.8 L105.8,348.0 L107.0,345.0 L108.2,336.8 L109.2,345.0 L110.0,357.0 L110.8,367.5 L111.8,367.5 L112.2,390.0 L113.0,421.2 L113.3,382.5 L114.5,393.0 L115.7,405.0 L116.8,396.0 L118.2,394.5 L119.3,399.0 L120.5,396.8 L122.0,402.0 L123.5,409.9 L125.0,416.0 L125.8,419.8 L127.2,415.2 L129.5,419.8 L131.0,434.0 L132.5,437.8 L133.2,436.2 L135.5,444.5 L137.8,449.0 L139.2,458.0 L140.8,449.8 L142.2,447.5 L143.0,453.5 L144.2,434.8 L145.2,437.8 L146.8,437.8 L147.5,444.5 L148.2,485.0" stroke="#d93a25" stroke-width="2.0"/>
<path d="M151.2,485.0 L152.0,473.0 L152.8,468.5 L155.0,462.5 L156.5,468.5 L158.0,476.0 L158.8,474.5 L159.5,485.0" stroke="#d93a25" stroke-width="2.0"/>
<path d="M159.8,486.0 L160.5,471.0 L161.2,463.5 L162.8,460.5 L163.8,455.2 L165.0,456.8 L166.2,451.5 L167.7,453.8 L168.8,463.5 L169.5,454.5 L170.7,453.8 L172.2,447.0 L173.2,438.8 L174.0,450.0 L174.8,457.5 L176.2,458.2 L177.8,451.5 L178.5,435.0 L178.9,424.5 L180.0,422.2 L180.0,421.5 L181.5,415.5 L182.2,409.5 L182.7,402.0 L184.2,399.0 L185.2,394.8 L186.8,396.0 L188.2,392.2 L189.0,389.2 L190.2,386.7 L191.2,388.5 L192.8,389.2 L193.8,390.0 L194.7,387.8 L195.8,389.2 L196.8,387.8 L198.0,383.2 L199.2,379.5 L200.2,375.0 L201.8,369.0 L202.5,360.5 L204.0,350.0 L204.8,352.2 L205.5,345.5 L206.7,338.0 L208.2,329.0 L209.2,322.2 L210.3,314.8 L210.8,311.8 L211.5,314.0 L212.7,309.5 L214.2,306.5 L214.8,308.8 L215.7,303.5 L217.2,300.8 L219.0,300.5 L220.5,297.5 L221.7,299.8 L223.5,302.8 L225.0,305.8 L226.5,307.2 L228.0,311.8 L229.5,316.2 L231.8,315.8 L234.0,316.7 L237.0,317.8 L240.0,318.9 L241.2,319.2 L241.8,326.8 L242.7,327.5 L244.5,322.2 L246.8,324.5 L249.0,326.8 L249.8,319.2 L251.2,317.8 L252.8,322.2 L255.0,320.8 L256.5,318.5 L257.2,320.8 L258.8,317.8 L260.0,316.8 L262.2,316.2 L263.8,313.5 L266.0,311.7 L267.2,315.0 L269.0,314.7 L270.5,315.8 L270.8,311.7 L272.0,315.8 L273.8,318.0 L275.8,321.0 L277.2,323.2 L278.8,326.7 L280.7,327.3 L282.5,326.2 L283.2,325.5 L284.8,327.3 L287.0,328.8 L288.2,333.8 L289.7,334.2 L290.8,333.0 L291.8,335.2 L293.8,334.2 L294.8,336.0 L296.0,338.2 L296.8,324.8 L298.2,323.7 L299.8,320.2 L300.5,330.0 L301.7,329.2 L302.8,333.0 L304.2,329.2 L305.8,327.8 L306.8,324.0 L308.0,328.5 L310.2,330.8 L311.8,328.5 L314.0,327.8 L316.2,329.2 L317.8,330.0 L319.2,332.2 L320.8,336.8 L321.8,339.8 L323.8,340.5 L324.8,342.0 L326.0,346.5 L327.5,351.8 L329.0,356.2 L331.2,360.0 L332.0,366.0 L333.8,365.2 L335.0,366.0 L336.2,365.2 L336.8,369.0 L338.0,373.5 L338.8,378.0 L340.2,380.5 L341.8,390.2 L343.2,395.5 L344.3,397.8 L345.5,397.0 L346.7,400.0 L348.5,403.8 L350.0,410.5 L351.5,417.2 L352.2,420.2 L353.0,418.8 L354.5,422.5 L356.0,427.0 L357.5,429.2 L359.0,431.5 L360.5,433.0 L361.7,431.5 L362.8,436.0 L364.2,439.0 L365.3,438.2 L366.5,446.5 L367.7,441.2 L368.8,437.5 L370.2,430.0 L371.8,421.0 L373.2,413.5 L374.8,407.5 L376.2,403.8 L377.0,406.0 L378.5,400.8 L380.0,397.0 L381.5,391.8 L383.0,385.8 L384.5,378.2 L386.0,373.0 L386.2,369.2 L387.7,365.5 L388.3,367.8 L389.2,365.8 L390.2,370.8 L391.8,373.0 L393.2,374.8 L394.8,375.2 L395.8,373.8 L396.7,371.5 L397.8,376.8 L398.8,373.8 L400.0,374.5 L400.8,381.2 L401.5,385.8 L403.0,386.5 L404.5,388.8 L405.2,389.5 L406.3,394.8 L407.5,394.0 L408.7,400.0 L409.8,403.8 L410.8,406.8 L411.7,404.5 L412.8,407.5 L413.8,406.8 L415.8,412.0 L417.2,418.0 L418.8,422.5 L420.2,423.7 L421.8,427.0 L423.2,424.8 L424.8,425.2 L425.8,422.5 L427.0,424.8 L428.2,424.0 L428.9,430.8 L429.6,421.8 L430.8,418.0 L432.2,418.0 L433.0,411.2 L434.2,416.5 L435.2,422.5 L436.8,419.5 L438.2,413.5 L439.3,407.5 L440.5,406.0 L441.2,405.2 L442.8,397.8 L444.2,393.2 L445.3,391.8 L446.8,386.5 L448.3,379.0 L449.5,376.8 L449.5,375.2 L451.0,367.8 L452.5,364.0 L454.0,361.0 L456.2,358.0 L457.8,355.8 L458.5,357.2 L459.7,353.5 L461.5,353.8 L463.0,350.5 L465.2,348.7 L467.2,346.0 L469.0,343.0 L471.2,341.8 L473.5,341.5 L475.0,340.8 L476.2,339.2 L476.8,346.0 L477.7,338.5 L479.2,334.8 L480.2,331.0 L481.0,328.8 L482.2,331.8 L484.0,334.0 L485.5,333.2 L487.0,331.8 L488.5,329.5 L489.2,323.5 L491.0,324.0 L492.2,325.5 L492.8,339.8 L493.7,327.0 L494.8,333.8 L495.8,343.5 L497.0,330.0 L497.8,339.0 L499.2,343.5 L500.4,336.8 L501.2,346.5 L502.2,351.8 L503.8,352.5 L505.2,357.0 L506.8,361.5 L508.2,366.0 L509.8,366.8 L510.8,366.0 L512.0,367.5 L513.5,369.8 L515.0,372.8 L516.8,372.0 L518.0,370.5 L519.5,366.8 L521.3,366.0 L522.5,368.2 L524.0,371.2 L525.5,369.8 L527.0,366.0 L528.5,363.0 L529.7,366.0 L530.3,372.8 L531.5,364.5 L533.0,363.0 L534.2,357.0 L535.2,359.2 L536.0,361.5 L537.2,362.2 L539.0,366.0 L540.5,370.5 L542.0,369.8 L542.8,372.8 L544.2,375.0 L545.8,378.0 L549.5,386.0 L550.7,387.5 L551.8,393.5 L552.8,398.0 L554.0,402.5 L555.5,404.0 L556.7,406.2 L557.8,402.5 L558.5,398.8 L559.2,404.0 L560.0,411.5 L561.2,412.2 L561.8,416.0 L563.0,413.0 L564.2,409.2 L564.8,412.2 L566.0,406.2 L566.8,410.0 L567.5,413.8 L568.7,410.8 L569.8,413.0 L571.2,411.5 L572.3,409.2 L573.5,413.0 L574.2,414.5 L575.8,413.8 L576.5,407.0 L577.2,401.0 L578.8,394.2 L580.2,393.5 L581.3,387.5 L581.9,383.8 L582.8,397.2 L584.0,397.2 L584.8,377.0 L585.8,374.8 L587.0,362.0 L588.2,362.0 L588.8,368.8 L589.5,373.2 L590.8,375.5 L591.8,377.8 L593.0,378.5 L594.5,381.5 L596.0,383.8 L597.5,384.5 L598.2,386.0 L599.8,385.2 L601.2,385.7 L601.7,401.0 L602.8,394.2 L604.2,393.5 L605.3,392.8 L606.0,383.8 L606.8,393.5 L608.0,401.0 L609.5,402.5 L611.0,404.8 L612.5,404.8 L614.0,406.2 L614.8,409.2 L615.8,411.5 L616.7,410.0 L617.8,412.2 L618.8,414.5 L620.0,420.5 L620.8,424.2 L622.3,424.6 L623.8,425.0 L624.5,423.2 L626.2,422.8 L628.3,421.2 L630.5,420.2 L631.8,416.0 L632.8,410.8 L634.0,407.8 L635.0,406.2 L636.5,401.8 L638.0,398.0 L639.2,397.2 L640.3,390.5 L641.2,386.0 L643.3,385.7 L644.5,383.8 L645.7,386.8 L647.2,388.2 L648.4,389.3 L649.0,401.0 L649.8,393.5 L650.8,394.2 L652.0,392.8 L653.0,384.5 L653.8,389.8 L654.7,398.0 L655.8,397.7 L657.2,398.0 L658.0,399.5 L658.8,389.0 L659.8,387.5 L661.0,385.2 L662.2,389.8 L662.8,386.8 L663.7,390.5 L664.8,394.2 L666.2,392.8 L667.3,390.5 L668.5,391.2 L669.7,388.2 L670.8,386.4 L671.8,387.5" stroke="#d93a25" stroke-width="2.0"/>
</g>
<circle cx="673.25" cy="106.10" r="1.0" fill="#2e75b6"/><circle cx="675.05" cy="103.29" r="1.0" fill="#2e75b6"/><circle cx="676.85" cy="100.48" r="1.0" fill="#2e75b6"/><circle cx="678.65" cy="97.67" r="1.0" fill="#2e75b6"/><circle cx="680.45" cy="94.86" r="1.0" fill="#2e75b6"/><circle cx="682.25" cy="92.05" r="1.0" fill="#2e75b6"/><circle cx="684.05" cy="89.24" r="1.0" fill="#2e75b6"/><circle cx="685.85" cy="86.43" r="1.0" fill="#2e75b6"/><circle cx="687.65" cy="83.62" r="1.0" fill="#2e75b6"/><circle cx="689.45" cy="80.81" r="1.0" fill="#2e75b6"/><circle cx="691.25" cy="78.00" r="1.0" fill="#2e75b6"/><circle cx="693.05" cy="75.19" r="1.0" fill="#2e75b6"/>
<g filter="url(#sh2)" opacity="0.3"><circle cx="672.6" cy="66.8" r="3.8" fill="#444"/></g>
<circle cx="671.6" cy="64.3" r="3.7" fill="#73dcc9" stroke="#8fc4e6" stroke-width="0.3"/>
<g filter="url(#sh2)" opacity="0.24"><ellipse cx="678.7" cy="66.3" rx="2.8" ry="2" fill="#555"/><ellipse cx="686.0" cy="65.0" rx="2.8" ry="2" fill="#555"/><ellipse cx="693.5" cy="64.1" rx="2.8" ry="2" fill="#555"/><ellipse cx="701.0" cy="63.2" rx="2.8" ry="2" fill="#555"/><ellipse cx="708.5" cy="63.1" rx="2.8" ry="2" fill="#555"/><ellipse cx="716.2" cy="63.9" rx="2.8" ry="2" fill="#555"/></g>
<circle cx="677.9" cy="63.1" r="1.25" fill="#6fdccb"/>
<circle cx="685.25" cy="61.85" r="1.25" fill="#6fcfe2"/>
<circle cx="692.75" cy="60.9" r="1.25" fill="#6edccc"/>
<circle cx="700.25" cy="60.0" r="1.25" fill="#69d8d0"/>
<circle cx="707.75" cy="59.9" r="1.25" fill="#66d6d2"/>
<circle cx="715.4" cy="60.65" r="1.25" fill="#6dd0de"/>
<path d="M686.4,71.7C688.6,69.9 691.2,67.6 693.4,67.3C696.3,67 696.6,69.8 694.6,75.1M692.4,71.4L694.6,75.3L698.4,72.3" stroke="#2e75b6" stroke-width="0.75" fill="none" stroke-linecap="round" stroke-linejoin="round"/>
<circle cx="675.90" cy="271.00" r="1.0" fill="#f08a3c"/><circle cx="678.61" cy="269.00" r="1.0" fill="#f08a3c"/><circle cx="681.31" cy="267.00" r="1.0" fill="#f08a3c"/><circle cx="684.02" cy="265.00" r="1.0" fill="#f08a3c"/><circle cx="686.72" cy="263.00" r="1.0" fill="#f08a3c"/><circle cx="689.43" cy="261.00" r="1.0" fill="#f08a3c"/><circle cx="692.14" cy="259.00" r="1.0" fill="#f08a3c"/><circle cx="694.84" cy="257.00" r="1.0" fill="#f08a3c"/><circle cx="697.55" cy="255.00" r="1.0" fill="#f08a3c"/><circle cx="700.25" cy="253.00" r="1.0" fill="#f08a3c"/>
<g filter="url(#sh2)" opacity="0.24"><ellipse cx="679.1" cy="277.4" rx="2.8" ry="2.0" fill="#555"/><ellipse cx="686.6" cy="276.7" rx="2.8" ry="2.0" fill="#555"/><ellipse cx="694.1" cy="276.1" rx="2.8" ry="2.0" fill="#555"/><ellipse cx="701.6" cy="275.3" rx="2.8" ry="2.0" fill="#555"/><ellipse cx="709.2" cy="274.8" rx="2.8" ry="2.0" fill="#555"/></g><circle cx="678.3" cy="274.2" r="1.2" fill="#f7bf47"/><circle cx="685.8" cy="273.5" r="1.2" fill="#f7bf47"/><circle cx="693.3" cy="272.9" r="1.2" fill="#f7bf47"/><circle cx="700.8" cy="272.1" r="1.2" fill="#f7bf47"/><circle cx="708.4" cy="271.6" r="1.2" fill="#f7bf47"/>
<g filter="url(#sh2)" opacity="0.24"><ellipse cx="678.7" cy="389.2" rx="2.7" ry="1.9000000000000001" fill="#555"/><ellipse cx="685.9" cy="388.2" rx="2.7" ry="1.9000000000000001" fill="#555"/><ellipse cx="693.5" cy="387.3" rx="2.7" ry="1.9000000000000001" fill="#555"/><ellipse cx="700.9" cy="386.3" rx="2.7" ry="1.9000000000000001" fill="#555"/><ellipse cx="708.4" cy="385.3" rx="2.7" ry="1.9000000000000001" fill="#555"/><ellipse cx="715.9" cy="384.3" rx="2.7" ry="1.9000000000000001" fill="#555"/></g><circle cx="677.9" cy="386.0" r="1.1" fill="#f48ac6"/><circle cx="685.1" cy="385.0" r="1.1" fill="#f48ac6"/><circle cx="692.8" cy="384.1" r="1.1" fill="#f48ac6"/><circle cx="700.1" cy="383.1" r="1.1" fill="#f48ac6"/><circle cx="707.6" cy="382.1" r="1.1" fill="#f48ac6"/><circle cx="715.1" cy="381.1" r="1.1" fill="#f48ac6"/>
<circle cx="674.40" cy="385.85" r="1.0" fill="#dc3a26"/><circle cx="677.32" cy="384.20" r="1.0" fill="#dc3a26"/><circle cx="680.24" cy="382.55" r="1.0" fill="#dc3a26"/><circle cx="683.16" cy="380.90" r="1.0" fill="#dc3a26"/><circle cx="686.08" cy="379.25" r="1.0" fill="#dc3a26"/><circle cx="689.00" cy="377.60" r="1.0" fill="#dc3a26"/><circle cx="691.92" cy="375.95" r="1.0" fill="#dc3a26"/><circle cx="694.84" cy="374.30" r="1.0" fill="#dc3a26"/><circle cx="697.76" cy="372.65" r="1.0" fill="#dc3a26"/>
<path d="M699.1,402.5C703.6,398.8 707.4,393.5 708.4,387.5C709.2,381.8 706.4,376 701.2,372.1M701.7,377L700.9,371.9L705.9,372.5" stroke="#e0483a" stroke-width="0.8" fill="none" stroke-linecap="round" stroke-linejoin="round"/>
<path d="M56.900000000000006,10.0H794.1" stroke="#757575" stroke-width="1.5" fill="none"/>
<path d="M57.2,10.0V486.0" stroke="#5c5c5c" stroke-width="1.4" fill="none"/>
<path d="M793.6,10.0V486.0" stroke="#2b2b2b" stroke-width="1.1" fill="none"/>
<path d="M56.7,485.5H794.1" stroke="#1f1f1f" stroke-width="1.1" fill="none"/>
<g filter="url(#sh)" opacity="0.35"><rect x="404.4" y="13.4" width="34.2" height="22.4" fill="#000"/></g>
<rect x="403.8" y="12.3" width="11.5" height="22.2" fill="#0b2092"/><rect x="415.3" y="12.3" width="11.8" height="22.2" fill="#fff"/><rect x="427.1" y="12.3" width="10.9" height="22.2" fill="#dc3c40"/>
<g font-family="'Liberation Sans', sans-serif" font-size="8.4" fill="#000" stroke="#000" stroke-width="0.1">
<path d="M238.5,446.09999999999997H247.4" stroke="#6cc3ec" stroke-width="1.6" fill="none"/>
<text x="251.7" y="449.4" textLength="94.1" lengthAdjust="spacingAndGlyphs">Daily infected (7-day avg)</text>
<path d="M238.5,456.3H247.4" stroke="#f2a447" stroke-width="1.6" fill="none"/>
<text x="251.7" y="459.6" textLength="78.2" lengthAdjust="spacingAndGlyphs">Daily ICU (7-day avg)</text>
<path d="M238.5,466.5H247.4" stroke="#ea6a5c" stroke-width="1.6" fill="none"/>
<text x="251.7" y="469.8" textLength="89.4" lengthAdjust="spacingAndGlyphs">Daily deaths (7-day avg)</text>
<g filter="url(#sh)" opacity="0.4"><circle cx="241" cy="478.2" r="1.6" fill="#333"/></g>
<path d="M243,477.3H247.6" stroke="#777" stroke-width="0.8" stroke-dasharray="0.9 1.1" fill="none"/>
<circle cx="240.6" cy="477.3" r="1.5" fill="#6b6b6b"/>
<text x="251.7" y="480.2" textLength="133.4" lengthAdjust="spacingAndGlyphs">Actual daily numbers and projection</text>
</g>
<g font-family="'Liberation Sans', sans-serif" font-size="8.4" fill="#000" stroke="#000" stroke-width="0.1" text-anchor="end">
<text x="48" y="13.5">1 000.00</text>
<text x="48" y="108.6">100.00</text>
<text x="48" y="203.7">10.00</text>
<text x="48" y="298.8">1.00</text>
<text x="48" y="393.9">0.10</text>
<text x="48" y="489.0">0.01</text>
</g>
<text transform="translate(8.2,247.5) rotate(-90)" font-family="'Liberation Sans', sans-serif" font-size="8.2" fill="#000" stroke="#000" stroke-width="0.12" text-anchor="middle" textLength="87" lengthAdjust="spacingAndGlyphs">Per 100 000 population</text>
<text x="61.2" y="23.0" font-family="'Liberation Serif', serif" font-size="10.5" textLength="206" lengthAdjust="spacingAndGlyphs" xml:space="preserve" stroke-width="0.22"><tspan fill="#2f6199" stroke="#2f6199">All reported infections: </tspan><tspan fill="#244f86" stroke="#244f86" font-weight="bold">57.3%</tspan><tspan fill="#2f6199" stroke="#2f6199"> of the population</tspan></text>
<text x="61.2" y="34.8" font-family="'Liberation Serif', serif" font-size="10.5" textLength="124.6" lengthAdjust="spacingAndGlyphs" xml:space="preserve" stroke-width="0.22"><tspan fill="#b4452f" stroke="#b4452f">Average excess death: </tspan><tspan fill="#a62a1c" stroke="#a62a1c" font-weight="bold">10.6%</tspan></text>
<text x="61.2" y="50.5" font-family="'Liberation Serif', serif" font-size="10.5" textLength="188.9" lengthAdjust="spacingAndGlyphs" xml:space="preserve" stroke-width="0.22"><tspan fill="#2e75c0" stroke="#2e75c0" font-weight="bold">60 268</tspan><tspan fill="#4185c6" stroke="#4185c6"> new daily infections (7-day average)</tspan></text>
<text x="61.2" y="62.4" font-family="'Liberation Serif', serif" font-size="10.5" textLength="155.3" lengthAdjust="spacingAndGlyphs" xml:space="preserve" stroke-width="0.22"><tspan fill="#d9301c" stroke="#d9301c" font-weight="bold">74</tspan><tspan fill="#d9412c" stroke="#d9412c"> new daily deaths (7-day average)</tspan></text>
<text x="61.2" y="78.7" font-family="'Liberation Serif', serif" font-size="10.5" textLength="165.2" lengthAdjust="spacingAndGlyphs" xml:space="preserve" stroke-width="0.22"><tspan fill="#1a1a1a" stroke="#1a1a1a">28.5%% positive tests (slightly higher)</tspan></text>
<text x="61.2" y="90.0" font-family="'Liberation Serif', serif" font-size="10.5" textLength="81" lengthAdjust="spacingAndGlyphs" xml:space="preserve" stroke-width="0.22"><tspan fill="#7f7f7f" stroke="#7f7f7f">R value 1.2 (lower)</tspan></text>
<text x="734.8" y="113.1" font-family="'Liberation Serif', serif" font-size="9.7" fill="#2f6dab" stroke="#2f6dab" stroke-width="0.25" textLength="24.4" lengthAdjust="spacingAndGlyphs">Rising</text>
<text x="734.8" y="278.4" font-family="'Liberation Serif', serif" font-size="9.7" fill="#ee9a44" stroke="#ee9a44" stroke-width="0.25" textLength="24.4" lengthAdjust="spacingAndGlyphs">Rising</text>
<text x="734.8" y="388.4" font-family="'Liberation Serif', serif" font-size="9.7" fill="#d94f3f" stroke="#d94f3f" stroke-width="0.25" textLength="24.4" lengthAdjust="spacingAndGlyphs">Rising</text>
</svg>
</body></html>
